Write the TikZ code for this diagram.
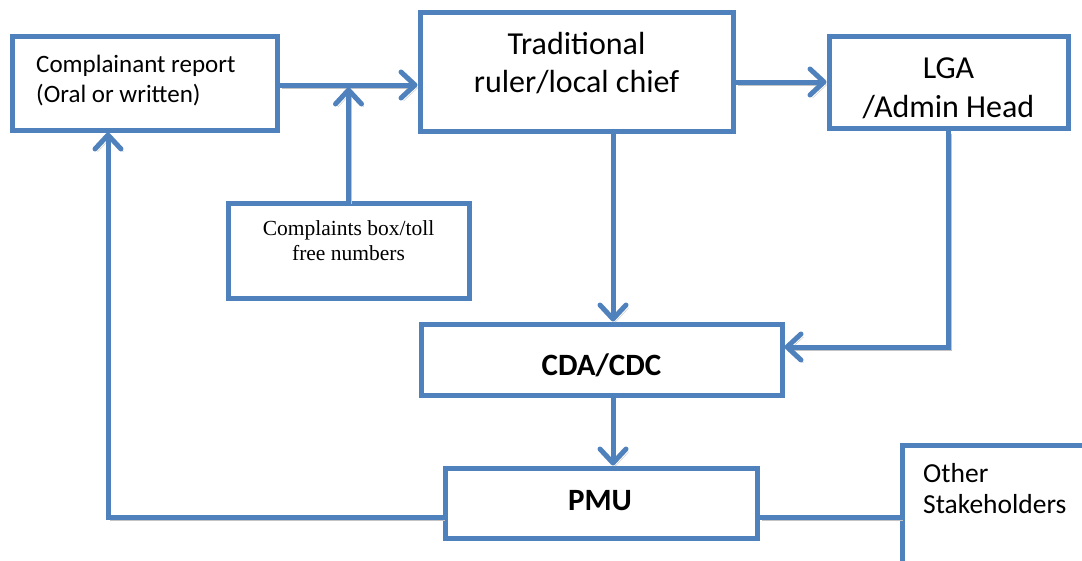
\documentclass[tikz,border=0pt]{standalone}
\usepackage{fontspec}
\setmainfont{Carlito}
\newfontfamily\tnr{Liberation Serif}
\usetikzlibrary{arrows.meta}
\definecolor{ob}{HTML}{4F81BD}
\definecolor{shd}{HTML}{C4C4C4}
\tikzset{
  box/.style={draw=ob, line width=5pt, fill=white, rectangle, inner sep=0pt},
  lbl/.style={inner sep=0pt, text=black},
  conn/.style={draw=ob, line width=5pt,
    preaction={draw=shd, transform canvas={shift={(2.5pt,-3pt)}}}},
  arr/.style={-{Straight Barb[length=14pt,width=26pt,round]}},
}
\begin{document}
\begin{tikzpicture}[x=1pt,y=-1pt]
\useasboundingbox (0,0) rectangle (1082,560);
\clip (0,0) rectangle (1082,560);
\coordinate (vx) at (613,0);
\coordinate (hy) at (0,347);
\coordinate (ly) at (0,517);
\coordinate (lx) at (108,0);
\coordinate (ay) at (0,85);
% boxes
\node[box, minimum width=265pt, minimum height=94pt] (comp) at (144.5,83) {};
\node[box, minimum width=313pt, minimum height=119pt] (trad) at (576.5,71.5) {};
\node[box, minimum width=239pt, minimum height=92pt] (lga) at (948.5,82) {};
\node[box, minimum width=241pt, minimum height=95pt] (cbox) at (348.5,250.5) {};
\node[box, minimum width=361pt, minimum height=71pt] (cda) at (601.5,359.5) {};
\node[box, minimum width=312pt, minimum height=70pt] (pmu) at (601,503) {};
\node[box, minimum width=200pt, minimum height=160pt, anchor=north west] (other) at (900,443) {};
% texts (base anchor = baseline of the last line)
\node[lbl, anchor=base west, align=left, font=\fontsize{25}{30}\selectfont] (compT) at (36,102) {Complainant report\\(Oral or written)};
\node[lbl, anchor=base, align=center, font=\fontsize{32}{38}\selectfont] (tradT) at (576.5,92) {Traditional\\ruler/local chief};
\node[lbl, anchor=base, align=center, font=\fontsize{32}{39}\selectfont] (lgaT) at (948.5,117) {LGA\\/Admin Head};
\node[lbl, anchor=base, align=center, font=\tnr\fontsize{21.5}{25}\selectfont] (cboxT) at (348.5,260) {Complaints box/toll\\free numbers};
\node[lbl, anchor=base, font=\bfseries\fontsize{31}{37}\selectfont] (cdaT) at (601.5,375) {CDA/CDC};
\node[lbl, anchor=base, font=\bfseries\fontsize{31}{37}\selectfont] (pmuT) at (600,510) {PMU};
\node[lbl, anchor=base west, align=left, font=\fontsize{27.5}{31}\selectfont] (otherT) at (923,513) {Other\\Stakeholders};
% connectors
\draw[conn,arr] (comp.east |- ay) -- (trad.west |- ay);
\draw[conn,arr,shorten >=2.5pt] (cbox.north) -- (cbox.north |- ay);
\draw[conn,arr] (trad.east |- lga.west) -- (lga.west);
\draw[conn,arr] (trad.south -| vx) -- (cda.north -| vx);
\draw[conn,arr] (lga.south) |- (cda.east |- hy);
\draw[conn,arr] (cda.south -| vx) -- (pmu.north -| vx);
\draw[conn,arr] (pmu.west |- ly) -| (comp.south -| lx);
\draw[conn] (pmu.east |- ly) -- (other.west |- ly);
\end{tikzpicture}
\end{document}
